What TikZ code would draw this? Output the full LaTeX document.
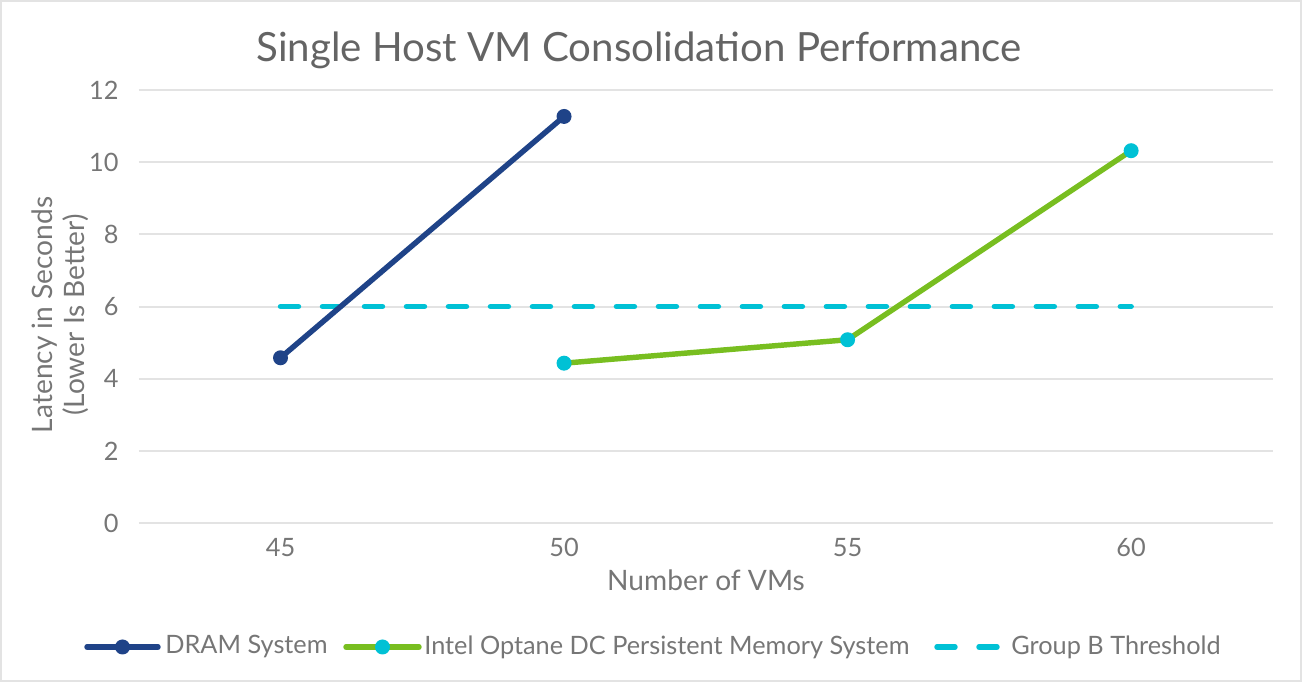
\documentclass[tikz,border=0pt]{standalone}
\usepackage{fontspec}
\setmainfont{Lato}
\usetikzlibrary{calc}
\definecolor{dramblue}{HTML}{1F4388}
\definecolor{optgreen}{HTML}{78BE20}
\definecolor{thrcyan}{HTML}{00C1D5}
\definecolor{gridgray}{HTML}{E3E3E3}
\definecolor{txtgray}{HTML}{767676}

\begin{document}
\begin{tikzpicture}[x=0.02cm,y=0.02cm,
    lbl/.style={text=txtgray,font=\fontsize{14.4}{16}\selectfont,inner sep=0pt},
    serie/.style={line width=3.1pt,line cap=round,line join=round},
    thr/.style={thrcyan,line width=3.1pt,line cap=round,dash pattern=on 0.36cm off 0.48cm},
    dot/.style={circle,fill=#1,inner sep=0pt,minimum size=0.3cm}]
  \useasboundingbox (0,0) rectangle (1302,682);
  \draw[gridgray,line width=0.8pt] (1,1) rectangle (1301,681);
  \node[text=txtgray!85!black,font=\fontsize{22.9}{26}\selectfont,inner sep=0pt] (title) at (639,632) {Single Host VM Consolidation Performance};
  % plot area, one unit per category / per second
  \begin{scope}[shift={(280.5,159)},x=5.672cm,y=0.7216cm]
    \foreach \v in {0,2,...,12}{
      \draw[gridgray,line width=1.1pt] (-0.5,\v) -- (3.5,\v);
      \node[lbl,anchor=east] (ytick\v) at (-0.57,\v) {\v};
    }
    \foreach \n/\c in {0/45,1/50,2/55,3/60}
      \node[lbl] (xtick\c) at (\n,-0.69) {\c};
    \coordinate (d45) at (0,4.58);
    \coordinate (d50) at (1,11.27);
    \coordinate (o50) at (1,4.43);
    \coordinate (o55) at (2,5.08);
    \coordinate (o60) at (3,10.32);
    \coordinate (t45) at (0,6);
    \coordinate (t60) at (3,6);
    \draw[thr] (t45) -- (t60);
    \draw[serie,dramblue] (d45) -- (d50);
    \draw[serie,optgreen] (o50) -- (o55) -- (o60);
    \foreach \p in {d45,d50} \node[dot=dramblue] at (\p) {};
    \foreach \p in {o50,o55,o60} \node[dot=thrcyan] at (\p) {};
  \end{scope}
  \node[lbl,font=\fontsize{16}{18.5}\selectfont] (xtitle) at (706,102) {Number of VMs};
  \node[lbl,font=\fontsize{16}{18.5}\selectfont,rotate=90,align=center] (ytitle) at (60,367) {Latency in Seconds\\(Lower Is Better)};
  % legend
  \coordinate (la1) at (87,35); \coordinate (la2) at (158,35);
  \coordinate (lb1) at (346,35); \coordinate (lb2) at (419,35);
  \coordinate (lc1) at (937,35); \coordinate (lc2) at (997,35);
  \draw[serie,dramblue] (la1) -- (la2);
  \node[dot=dramblue] (lam) at ($(la1)!0.5!(la2)$) {};
  \node[lbl,anchor=west] (lat) at (165,35) {DRAM System};
  \draw[serie,optgreen] (lb1) -- (lb2);
  \node[dot=thrcyan] (lbm) at ($(lb1)!0.5!(lb2)$) {};
  \node[lbl,anchor=west] (lbt) at (424,35) {Intel Optane DC Persistent Memory System};
  \draw[thr] (lc1) -- (lc2);
  \node[lbl,anchor=west] (lct) at (1011,35) {Group B Threshold};
\end{tikzpicture}
\end{document}
